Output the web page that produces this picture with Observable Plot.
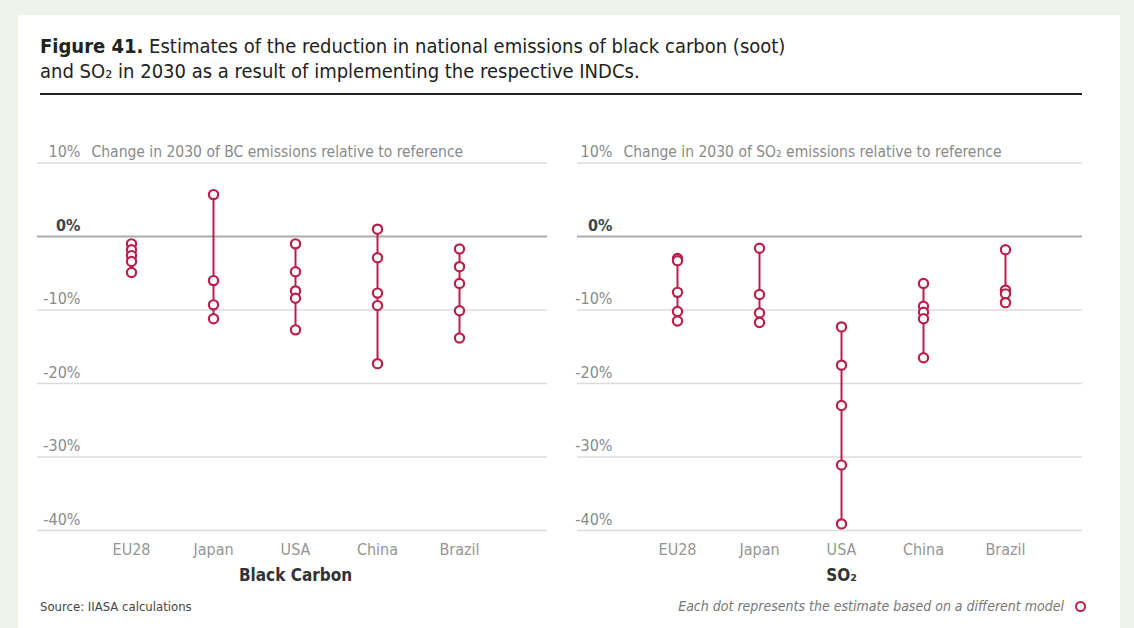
<!DOCTYPE html>
<html>
<head>
<meta charset="utf-8">
<script src="https://cdn.jsdelivr.net/npm/d3@7"></script>
<script src="https://cdn.jsdelivr.net/npm/@observablehq/plot@0.6"></script>
<style>
  html, body { margin: 0; padding: 0; }
  body {
    width: 1134px; height: 628px; overflow: hidden;
    background: #eef2e9;
    font-family: "Liberation Sans Narrow", "DejaVu Sans Condensed", "Roboto Condensed", "Arial Narrow", sans-serif;
  }
  #card { position: absolute; left: 18px; top: 15px; width: 1102px; height: 640px; background: #fff; }
  #title { position: absolute; left: 40px; top: 34px; font-size: 20px; line-height: 25px; color: #222; }
  #title b { font-weight: bold; }
  #rule { position: absolute; left: 40px; top: 93px; width: 1042px; height: 2px; background: #222; }
  .panel { position: absolute; top: 130px; }
  #source { position: absolute; left: 40px; top: 599px; font-size: 13px; color: #444; }
  #note { position: absolute; right: 70px; top: 598px; font-size: 14px; font-style: italic; color: #777; }
  #note-dot { position: absolute; left: 1075px; top: 601px; width: 7px; height: 7px; border: 2px solid #b81f4c; border-radius: 50%; background: #fff; }
  svg text { font-family: "Liberation Sans Narrow", "DejaVu Sans Condensed", "Roboto Condensed", "Arial Narrow", sans-serif; }
</style>
</head>
<body>
<div id="card"></div>
<div id="title"><b>Figure 41.</b> Estimates of the reduction in national emissions of black carbon (soot)<br>and SO₂ in 2030 as a result of implementing the respective INDCs.</div>
<div id="rule"></div>
<div id="left" class="panel" style="left:30px"></div>
<div id="right" class="panel" style="left:570px"></div>
<div id="source">Source: IIASA calculations</div>
<div id="note">Each dot represents the estimate based on a different model</div>
<div id="note-dot"></div>
<script>
// Countries along each panel's horizontal axis
const categories = ["EU28", "Japan", "USA", "China", "Brazil"];

// Gridline values and their labels (percent change vs. reference)
const tickValues = [10, 0, -10, -20, -30, -40];
const tickLabels = ["10%", "0%", "-10%", "-20%", "-30%", "-40%"];

// Black carbon: change in 2030 emissions, one value per model
const bcEU28   = [-1.0, -1.8, -2.6, -3.4, -4.9];
const bcJapan  = [5.7, -6.0, -9.3, -11.2];
const bcUSA    = [-1.0, -4.8, -7.4, -8.4, -12.7];
const bcChina  = [1.0, -2.9, -7.7, -9.4, -17.3];
const bcBrazil = [-1.7, -4.1, -6.4, -10.1, -13.8];

// SO2: change in 2030 emissions, one value per model
const so2EU28   = [-3.0, -3.3, -7.6, -10.2, -11.5];
const so2Japan  = [-1.6, -7.9, -10.4, -11.7];
const so2USA    = [-12.3, -17.5, -23.0, -31.1, -39.1];
const so2China  = [-6.4, -9.5, -10.3, -11.2, -16.5];
const so2Brazil = [-1.8, -7.3, -7.8, -9.0];

const bcSeries  = [bcEU28, bcJapan, bcUSA, bcChina, bcBrazil];
const so2Series = [so2EU28, so2Japan, so2USA, so2China, so2Brazil];

const red = "#b81f4c";

function panel(series, header, name, opts) {
  const rows = series.flatMap((vals, i) => vals.map(v => ({country: categories[i], value: v})));
  const spans = series.map((vals, i) => ({country: categories[i], lo: d3.min(vals), hi: d3.max(vals)}));
  const ticks = tickValues.map((v, i) => ({value: v, label: tickLabels[i]}));
  return Plot.plot({
    width: opts.width,
    height: 460,
    marginTop: 32.5,
    marginBottom: 60,
    marginLeft: 7,
    marginRight: 8,
    x: {type: "point", domain: categories, range: opts.xRange, padding: 0},
    y: {domain: [-40, 10], axis: null},
    style: {background: "transparent", overflow: "visible"},
    marks: [
      Plot.ruleY(tickValues.filter(v => v !== 0), {stroke: "#dcdcdc", strokeWidth: 1.5}),
      Plot.ruleY([0], {stroke: "#ababab", strokeWidth: 2}),
      Plot.text(ticks.filter(d => d.value !== 0), {
        y: "value", text: "label", frameAnchor: "left", dx: opts.labelDx,
        textAnchor: "end", lineAnchor: "bottom", dy: -6, fontSize: 16, fill: "#8a8a8a"
      }),
      Plot.text(ticks.filter(d => d.value === 0), {
        y: "value", text: "label", frameAnchor: "left", dx: opts.labelDx,
        textAnchor: "end", lineAnchor: "bottom", dy: -6, fontSize: 16, fill: "#444", fontWeight: "bold"
      }),
      Plot.text([header], {
        y: () => 10, text: d => d, frameAnchor: "left", dx: opts.labelDx + 11,
        textAnchor: "start", lineAnchor: "bottom", dy: -6, fontSize: 15.5, fill: "#8a8a8a"
      }),
      Plot.ruleX(spans, {x: "country", y1: "lo", y2: "hi", stroke: red, strokeWidth: 2}),
      Plot.dot(rows, {x: "country", y: "value", r: 4.6, stroke: red, strokeWidth: 2.2, fill: "white"}),
      Plot.axisX({tickSize: 0, tickPadding: 13, fontSize: 16, color: "#959595", label: null}),
      Plot.text([name], {
        x: () => "USA", text: d => d, frameAnchor: "bottom", dy: 50,
        fontSize: 17, fontWeight: "bold", fill: "#333"
      })
    ]
  });
}

document.getElementById("left").append(
  panel(bcSeries, "Change in 2030 of BC emissions relative to reference", "Black Carbon",
        {width: 525, xRange: [100, 430], labelDx: 43})
);
document.getElementById("right").append(
  panel(so2Series, "Change in 2030 of SO₂ emissions relative to reference", "SO₂",
        {width: 520, xRange: [107, 435], labelDx: 35})
);
</script>
</body>
</html>
